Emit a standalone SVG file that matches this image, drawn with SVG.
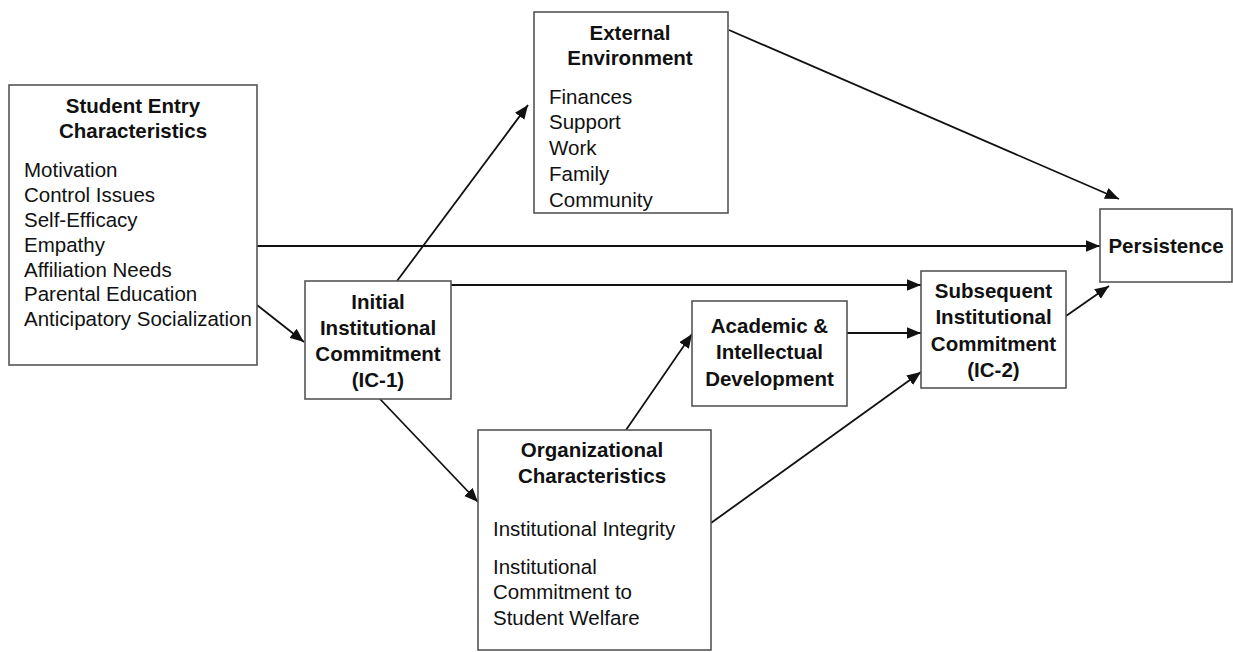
<svg xmlns="http://www.w3.org/2000/svg" width="1233" height="652" viewBox="0 0 1233 652">
<defs>
<style>
.box{fill:#fff;stroke:#555;stroke-width:1.6}
.t{font-family:"Liberation Sans",Arial,sans-serif;font-size:20.5px;fill:#111}
.b{font-weight:bold;text-anchor:middle}
.c{fill:none;stroke:#111;stroke-width:1.8}
</style>
<marker id="ah" viewBox="0 0 12 10" refX="12" refY="5" markerWidth="14" markerHeight="12" markerUnits="userSpaceOnUse" orient="auto">
<path d="M0,0 L12,5 L0,10 Z" fill="#111"/>
</marker>
</defs>
<rect width="1233" height="652" fill="#fff"/>
<g id="connectors">
<line class="c" x1="729" y1="30" x2="1119" y2="199" marker-end="url(#ah)"/>
<line class="c" x1="257" y1="246" x2="1100" y2="246" marker-end="url(#ah)"/>
<line class="c" x1="257" y1="305" x2="304" y2="342" marker-end="url(#ah)"/>
<line class="c" x1="397" y1="281" x2="528" y2="105" marker-end="url(#ah)"/>
<line class="c" x1="451" y1="285" x2="921" y2="285" marker-end="url(#ah)"/>
<line class="c" x1="380" y1="399" x2="478" y2="502" marker-end="url(#ah)"/>
<line class="c" x1="626" y1="430" x2="692" y2="334" marker-end="url(#ah)"/>
<line class="c" x1="847" y1="333" x2="921" y2="333" marker-end="url(#ah)"/>
<line class="c" x1="711" y1="523" x2="921" y2="372" marker-end="url(#ah)"/>
<line class="c" x1="1066" y1="316" x2="1109" y2="286" marker-end="url(#ah)"/>
</g>
<g id="student-entry">
<rect class="box" x="9" y="85" width="248" height="280"/>
<text class="t b" x="133" y="113">Student Entry</text>
<text class="t b" x="133" y="138">Characteristics</text>
<text class="t" x="24" y="177">Motivation</text>
<text class="t" x="24" y="202">Control Issues</text>
<text class="t" x="24" y="227">Self-Efficacy</text>
<text class="t" x="24" y="252">Empathy</text>
<text class="t" x="24" y="276.5">Affiliation Needs</text>
<text class="t" x="24" y="301">Parental Education</text>
<text class="t" x="24" y="326">Anticipatory Socialization</text>
</g>
<g id="external-environment">
<rect class="box" x="534" y="12" width="194" height="201"/>
<text class="t b" x="630" y="40">External</text>
<text class="t b" x="630" y="65">Environment</text>
<text class="t" x="549" y="103.5">Finances</text>
<text class="t" x="549" y="129">Support</text>
<text class="t" x="549" y="155">Work</text>
<text class="t" x="549" y="181">Family</text>
<text class="t" x="549" y="206.5">Community</text>
</g>
<g id="initial-commitment">
<rect class="box" x="305" y="281" width="146" height="118"/>
<text class="t b" x="378" y="309">Initial</text>
<text class="t b" x="378" y="335">Institutional</text>
<text class="t b" x="378" y="361">Commitment</text>
<text class="t b" x="378" y="387">(IC-1)</text>
</g>
<g id="academic-development">
<rect class="box" x="692" y="301" width="155" height="105"/>
<text class="t b" x="769.5" y="333">Academic &amp;</text>
<text class="t b" x="769.5" y="359">Intellectual</text>
<text class="t b" x="769.5" y="386">Development</text>
</g>
<g id="organizational-characteristics">
<rect class="box" x="478" y="430" width="233" height="220"/>
<text class="t b" x="592" y="457">Organizational</text>
<text class="t b" x="592" y="483">Characteristics</text>
<text class="t" x="493" y="536">Institutional Integrity</text>
<text class="t" x="493" y="574">Institutional</text>
<text class="t" x="493" y="599">Commitment to</text>
<text class="t" x="493" y="625">Student Welfare</text>
</g>
<g id="subsequent-commitment">
<rect class="box" x="921" y="271" width="145" height="117"/>
<text class="t b" x="993.5" y="298">Subsequent</text>
<text class="t b" x="993.5" y="324">Institutional</text>
<text class="t b" x="993.5" y="351">Commitment</text>
<text class="t b" x="993.5" y="377">(IC-2)</text>
</g>
<g id="persistence">
<rect class="box" x="1100" y="209" width="132" height="73"/>
<text class="t b" x="1166" y="253">Persistence</text>
</g>
</svg>
